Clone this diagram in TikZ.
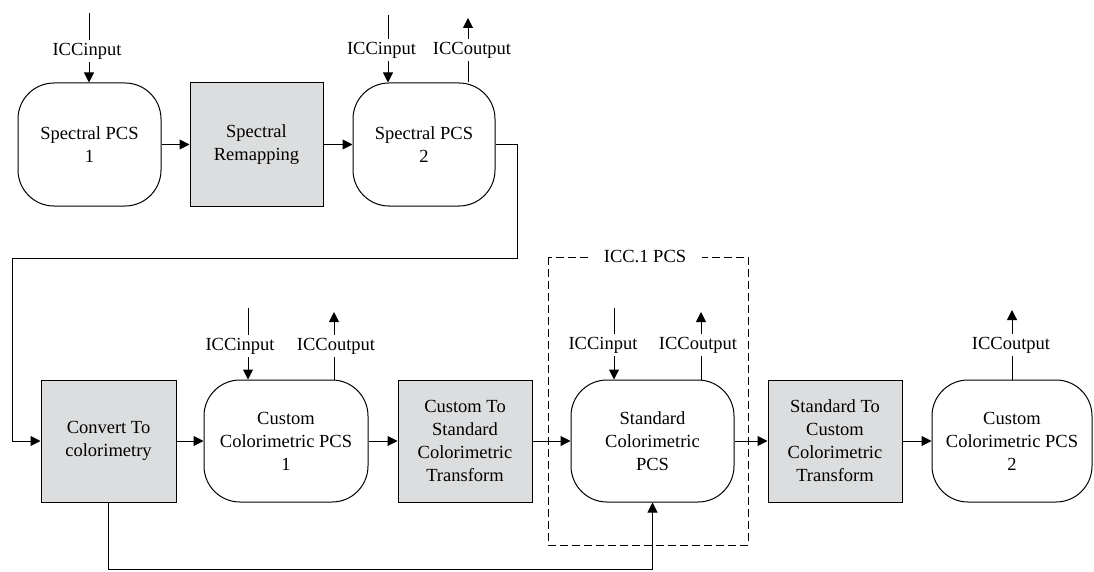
\documentclass[tikz,border=0pt]{standalone}
\usepackage{fontspec}
\setmainfont{Liberation Serif}
\usetikzlibrary{arrows.meta}
\definecolor{boxgray}{RGB}{220,221,222}
\begin{document}
\begin{tikzpicture}[x=1pt,y=-1pt,
  every node/.style={font=\fontsize{18.5}{23}\selectfont},
  line/.style={draw=black,line width=1pt},
  arr/.style={line,-{Triangle[length=10pt,width=10pt]}},
  pcs/.style={line,rectangle,rounded corners=36pt,fill=white,align=center,inner sep=0pt},
  proc/.style={line,rectangle,fill=boxgray,align=center,inner sep=0pt},
  lab/.style={inner xsep=0pt,inner ysep=3pt,text height=12.5pt,text depth=4pt,fill=white}
]
\useasboundingbox (0,0) rectangle (1094,572);

% top row
\node[pcs,minimum width=143pt,minimum height=123pt] (sp1) at (89.5,144.5) {Spectral PCS\\1};
\node[proc,minimum width=133pt,minimum height=123pt] (remap) at (256.5,144.5) {Spectral\\Remapping};
\node[pcs,minimum width=142pt,minimum height=123pt] (sp2) at (424,144.5) {Spectral PCS\\2};

% bottom row
\node[proc,minimum width=135pt,minimum height=122pt] (conv) at (108.5,441) {Convert To\\colorimetry};
\node[pcs,minimum width=164pt,minimum height=122pt] (ccp1) at (286,441) {Custom\\Colorimetric PCS\\1};
\node[proc,minimum width=134pt,minimum height=122pt] (c2s) at (465,441) {Custom To\\Standard\\Colorimetric\\Transform};
\node[pcs,minimum width=163pt,minimum height=122pt] (scp) at (652.5,441) {Standard\\Colorimetric\\PCS};
\node[proc,minimum width=134pt,minimum height=122pt] (s2c) at (835,441) {Standard To\\Custom\\Colorimetric\\Transform};
\node[pcs,minimum width=160pt,minimum height=122pt] (ccp2) at (1012,441) {Custom\\Colorimetric PCS\\2};

% dashed ICC.1 PCS box
\draw[line,dash pattern=on 8pt off 4pt] (548,257) rectangle (748,545);
\node[lab,inner xsep=16pt] (icc1) at (645,258) {ICC.1 PCS};

% main flow arrows
\draw[arr] (sp1) -- (remap);
\draw[arr] (remap) -- (sp2);
\draw[arr] (conv) -- (ccp1);
\draw[arr] (ccp1) -- (c2s);
\draw[arr] (c2s) -- (scp);
\draw[arr] (scp) -- (s2c);
\draw[arr] (s2c) -- (ccp2);

% feedback from Spectral PCS 2 to Convert
\coordinate (fb1) at (517,144.5);
\coordinate (fb2) at (517,258);
\coordinate (fb3) at (12,258);
\coordinate (fb4) at (12,441);
\draw[arr] (sp2.east) -- (fb1) -- (fb2) -- (fb3) -- (fb4) -- (conv.west);

% bypass from Convert to Standard PCS
\coordinate (bp1) at (108.5,569);
\coordinate (bp2) at (652.5,569);
\draw[arr] (conv.south) -- (bp1) -- (bp2) -- (scp.south);

% ICC inputs
\coordinate (i1) at (89,13);
\node[lab] (i1l) at (87,51) {ICCinput};
\draw[line] (i1) -- (i1 |- i1l.north);
\draw[arr] (i1 |- i1l.south) -- (i1 |- sp1.north);

\coordinate (i2) at (388,15);
\node[lab] (i2l) at (381.5,50) {ICCinput};
\draw[line] (i2) -- (i2 |- i2l.north);
\draw[arr] (i2 |- i2l.south) -- (i2 |- sp2.north);

\coordinate (i3) at (248,308);
\node[lab] (i3l) at (240,346) {ICCinput};
\draw[line] (i3) -- (i3 |- i3l.north);
\draw[arr] (i3 |- i3l.south) -- (i3 |- ccp1.north);

\coordinate (i4) at (614,308);
\node[lab] (i4l) at (603,345) {ICCinput};
\draw[line] (i4) -- (i4 |- i4l.north);
\draw[arr] (i4 |- i4l.south) -- (i4 |- scp.north);

% ICC outputs
\coordinate (o2) at (468,18);
\node[lab] (o2l) at (472,50) {ICCoutput};
\draw[line] (o2 |- sp2.north) -- (o2 |- o2l.south);
\draw[arr] (o2 |- o2l.north) -- (o2);

\coordinate (o3) at (334,312);
\node[lab] (o3l) at (336,346) {ICCoutput};
\draw[line] (o3 |- ccp1.north) -- (o3 |- o3l.south);
\draw[arr] (o3 |- o3l.north) -- (o3);

\coordinate (o4) at (701,312);
\node[lab] (o4l) at (698,345) {ICCoutput};
\draw[line] (o4 |- scp.north) -- (o4 |- o4l.south);
\draw[arr] (o4 |- o4l.north) -- (o4);

\coordinate (o5) at (1012,310);
\node[lab] (o5l) at (1011,345) {ICCoutput};
\draw[line] (o5 |- ccp2.north) -- (o5 |- o5l.south);
\draw[arr] (o5 |- o5l.north) -- (o5);
\end{tikzpicture}
\end{document}
